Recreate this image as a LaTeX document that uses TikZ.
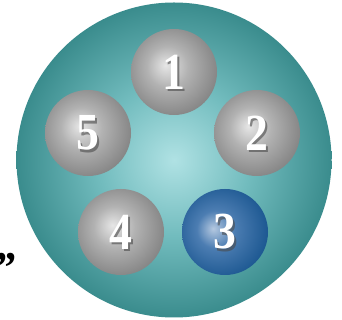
\documentclass[tikz,border=0pt]{standalone}
\usepackage{fontspec}
\setmainfont{Liberation Serif}
\definecolor{tealC}{HTML}{B0E2E4}
\definecolor{tealM}{HTML}{72BCBE}
\definecolor{tealE}{HTML}{3A8C8D}
\definecolor{grayH}{HTML}{E6E6E6}
\definecolor{grayM}{HTML}{B2B2B2}
\definecolor{grayE}{HTML}{828282}
\definecolor{blueH}{HTML}{B4C8E0}
\definecolor{blueM}{HTML}{4C7DB2}
\definecolor{blueE}{HTML}{1A5690}
\definecolor{shadowC}{HTML}{4A4A4A}
\pgfdeclareradialshading{bigdisc}{\pgfpoint{0bp}{0bp}}{color(0bp)=(tealC);color(12bp)=(tealM);color(25bp)=(tealE);color(50bp)=(tealE)}
\pgfdeclareradialshading{grayball}{\pgfpoint{-5bp}{4bp}}{color(0bp)=(grayH);color(12bp)=(grayM);color(29bp)=(grayE);color(50bp)=(grayE)}
\pgfdeclareradialshading{blueball}{\pgfpoint{-7bp}{2bp}}{color(0bp)=(blueH);color(11bp)=(blueM);color(29bp)=(blueE);color(50bp)=(blueE)}
\tikzset{
  ballg/.style={circle,minimum size=86pt,inner sep=0pt,shading=grayball},
  ballb/.style={circle,minimum size=86pt,inner sep=0pt,shading=blueball},
  digit/.style={text=white,inner sep=0pt,font=\bfseries\fontsize{52}{52}\selectfont},
  digitshadow/.style={text=shadowC,opacity=0.6,inner sep=0pt,font=\bfseries\fontsize{52}{52}\selectfont},
}
\begin{document}
\begin{tikzpicture}[x=1pt,y=1pt]
\useasboundingbox (0,0) rectangle (342,320);
\node[circle,minimum size=315pt,inner sep=0pt,shading=bigdisc] (disc) at (174,160) {};
\node[ballg] (b1) at (174,248) {};
\node[ballg] (b2) at (257,187) {};
\node[ballb] (b3) at (225,88) {};
\node[ballg] (b4) at (121,88) {};
\node[ballg] (b5) at (88,187) {};
\foreach \n/\d in {b1/1,b2/2,b3/3,b4/4,b5/5}{
  \node[digitshadow] (s\n) at ([shift={(1.5,-2.5)}]\n.center) {\scalebox{0.88}[1]{\d}};
  \node[digit] (t\n) at (\n.center) {\scalebox{0.88}[1]{\d}};
}
\node[font=\bfseries\itshape\fontsize{44}{44}\selectfont,inner sep=0pt,anchor=north west] (q) at (-7,67) {”};
\end{tikzpicture}
\end{document}
